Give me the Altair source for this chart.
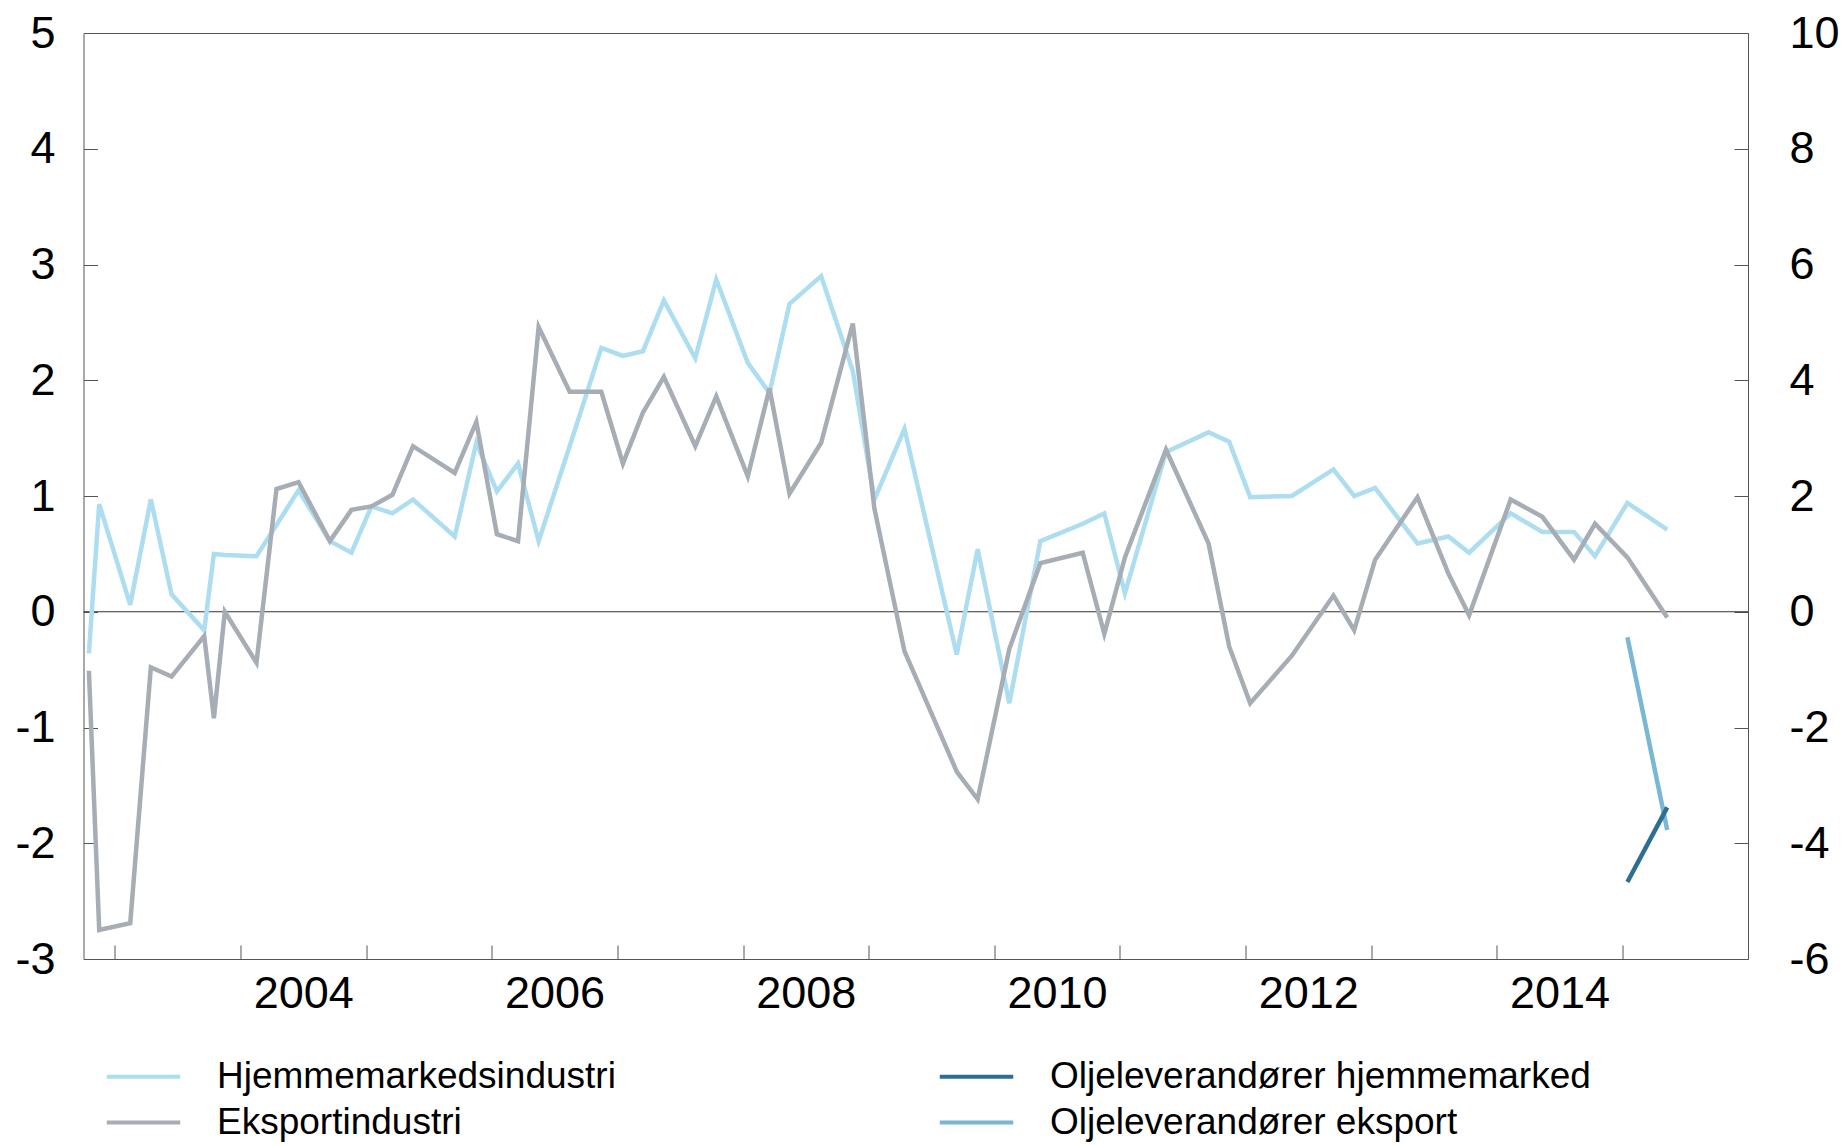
import altair as alt
import pandas as pd

# ---- data ----
dates = [2002.793, 2002.875, 2003.122, 2003.286, 2003.451, 2003.711, 2003.788, 2003.875,
         2004.127, 2004.286, 2004.462, 2004.711, 2004.883, 2005.042, 2005.209, 2005.373,
         2005.705, 2005.877, 2006.041, 2006.209, 2006.373, 2006.620, 2006.872, 2007.044,
         2007.203, 2007.370, 2007.620, 2007.787, 2008.038, 2008.211, 2008.370, 2008.622,
         2008.874, 2009.046, 2009.285, 2009.701, 2009.868, 2010.120, 2010.367, 2010.704,
         2010.876, 2011.040, 2011.367, 2011.706, 2011.870, 2012.037, 2012.369, 2012.700,
         2012.865, 2013.032, 2013.369, 2013.615, 2013.780, 2014.111, 2014.363, 2014.615,
         2014.782, 2015.040, 2015.357]
hjemme = [-0.36, 0.93, 0.06, 0.97, 0.15, -0.16, 0.50, 0.49,
          0.48, 0.75, 1.05, 0.61, 0.51, 0.91, 0.85, 0.97,
          0.65, 1.46, 1.04, 1.28, 0.61, 1.43, 2.28, 2.21,
          2.25, 2.69, 2.19, 2.87, 2.15, 1.89, 2.66, 2.90,
          2.08, 0.97, 1.58, -0.37, 0.54, -0.79, 0.61, 0.76,
          0.85, 0.16, 1.38, 1.55, 1.47, 0.99, 1.00, 1.23,
          1.00, 1.07, 0.59, 0.65, 0.51, 0.85, 0.69, 0.69,
          0.48, 0.94, 0.71]
eksport = [-0.51, -2.75, -2.69, -0.48, -0.56, -0.21, -0.92, 0.00,
           -0.44, 1.06, 1.12, 0.61, 0.88, 0.91, 1.01, 1.43,
           1.20, 1.64, 0.67, 0.61, 2.46, 1.90, 1.90, 1.28,
           1.72, 2.03, 1.43, 1.86, 1.17, 1.93, 1.02, 1.46,
           2.49, 0.89, -0.34, -1.38, -1.62, -0.32, 0.42, 0.51,
           -0.19, 0.47, 1.40, 0.59, -0.30, -0.79, -0.38, 0.14,
           -0.16, 0.45, 0.99, 0.33, -0.03, 0.97, 0.82, 0.45,
           0.76, 0.47, -0.05]
oil_dates = [2015.040, 2015.357]
oil_hjemme = [-4.67, -3.38]
oil_eksport = [-0.44, -3.77]

year_ticks = list(range(2003, 2016))
year_labels = [2004, 2006, 2008, 2010, 2012, 2014]
left_ticks = list(range(-3, 6))
right_ticks = list(range(-6, 11, 2))

# legend fills column by column: H, E in the first column, oil series in the second
names = ["Hjemmemarkedsindustri", "Eksportindustri",
         "Oljeleverandører hjemmemarked", "Oljeleverandører eksport"]
colors = ["#ADDDF0", "#A6ADB4", "#2C6F92", "#7AB7D3"]
H, E, OH, OE = names

main_df = pd.DataFrame({
    "dato": dates * 2,
    "verdi": hjemme + eksport,
    "serie": [H] * len(dates) + [E] * len(dates),
})
oil_df = pd.DataFrame({
    "dato": oil_dates * 2,
    "verdi": oil_eksport + oil_hjemme,
    "serie": [OE] * len(oil_dates) + [OH] * len(oil_dates),
})
zero_df = pd.DataFrame({"verdi": [0]})

FONT = "Liberation Sans"
TICK = "#555555"

x_scale = alt.Scale(domain=[2002.75, 2016.0], nice=False, zero=False)
x_axis = alt.Axis(
    values=year_ticks + [y + 0.5 for y in year_labels],
    labelExpr="datum.value % 1 != 0 ? toString(floor(datum.value)) : ''",
    tickOpacity={"condition": {"test": "datum.value % 1 != 0", "value": 0}, "value": 1},
    tickSize={"expr": "-14"}, tickColor=TICK, tickWidth=1,
    labelPadding=48, labelBaseline="middle",
    labelFont=FONT, labelFontSize=45, labelColor="black",
    labelOverlap=False, labelFlush=False,
    domain=False, grid=False, title=None,
)
X = alt.X("dato:Q", scale=x_scale, axis=x_axis)

left_axis = alt.Axis(
    orient="left", values=left_ticks, labelExpr="toString(datum.value)",
    tickSize={"expr": "-14"}, tickColor=TICK, tickWidth=1, labelPadding=42.5,
    labelFont=FONT, labelFontSize=45, labelColor="black",
    labelOverlap=False, labelFlush=False,
    domain=False, grid=False, title=None,
)
right_axis = alt.Axis(
    orient="right", values=right_ticks, labelExpr="toString(datum.value)",
    tickSize={"expr": "-14"}, tickColor=TICK, tickWidth=1, labelPadding=55,
    labelFont=FONT, labelFontSize=45, labelColor="black",
    labelOverlap=False, labelFlush=False,
    domain=False, grid=False, title=None,
)
Y_left = alt.Y("verdi:Q", scale=alt.Scale(domain=[-3, 5], nice=False, zero=False), axis=left_axis)
Y_right = alt.Y("verdi:Q", scale=alt.Scale(domain=[-6, 10], nice=False, zero=False), axis=right_axis)

legend = alt.Legend(
    title=None, orient="none", legendX=41.5, legendY=1025,
    columns=2, columnPadding=315, rowPadding=8,
    symbolType="M-3,0H3", symbolSize=600, symbolStrokeWidth=4,
    labelFont=FONT, labelFontSize=37, labelColor="black",
    labelOffset=55, labelLimit=1000, padding=0,
)
color = alt.Color("serie:N", scale=alt.Scale(domain=names, range=colors), legend=legend)

zero_line = alt.Chart(zero_df).mark_rule(color="#333333", strokeWidth=1.2).encode(y=Y_left)

def series_line(df, name, y):
    return (alt.Chart(df).transform_filter(alt.datum.serie == name)
            .mark_line(strokeWidth=4.5)
            .encode(x=X, y=y, color=color))

left = alt.layer(zero_line, series_line(main_df, H, Y_left), series_line(main_df, E, Y_left))
right = alt.layer(series_line(oil_df, OE, Y_right), series_line(oil_df, OH, Y_right))

chart = (
    alt.layer(left, right)
    .resolve_scale(y="independent")
    .properties(
        width=1664.5, height=926,
        autosize=alt.AutoSizeParams(type="none"),
        padding={"left": 75.5, "top": 25, "right": 91, "bottom": 186},
    )
    .configure_view(stroke=TICK, strokeWidth=1)
)

chart.save("out.html", embed_options={"renderer": "svg", "actions": False})
